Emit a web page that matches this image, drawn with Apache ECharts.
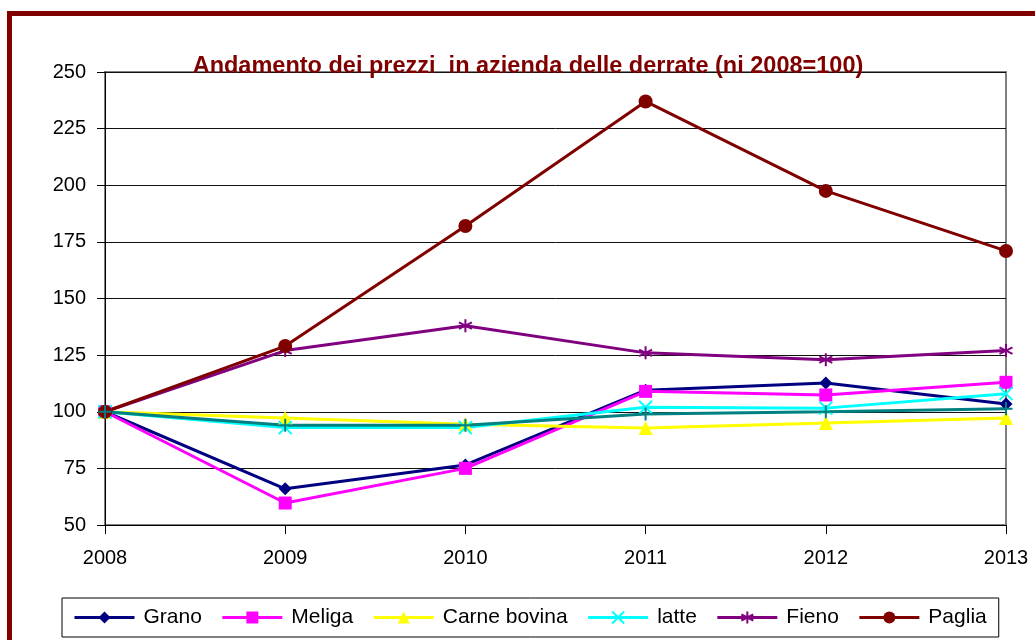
<!DOCTYPE html>
<html><head><meta charset="utf-8">
<script src="https://cdn.jsdelivr.net/npm/echarts@6/dist/echarts.min.js"></script>
<style>html,body{margin:0;padding:0;background:#fff}#c{width:1035px;height:640px}</style>
</head><body><div id="c"></div>
<script>
const years = ['2008','2009','2010','2011','2012','2013'];
const grano = [100, 66, 76.5, 109.5, 112.7, 103.4];
const meliga = [100, 59.7, 75, 109, 107.4, 113];
const carne = [100, 97.2, 94.5, 92.8, 95, 97.2];
const latte = [100, 93, 93, 102, 101.6, 108];
const fieno = [100, 127, 138, 126, 123, 127];
const paglia = [100, 129, 182, 237, 197.5, 171];
const altro = [100, 94, 94, 99, 100, 101.3];
const yTicks = {min: 50, max: 250, step: 25};

const FONT = 'Liberation Sans, Arial, sans-serif';
const X_PATH = 'path://M0,0 L10,10 M10,0 L0,10';
const STAR_PATH = 'path://M5,0 L5,10 M0,2.5 L10,7.5 M0,7.5 L10,2.5';
const PLUS_PATH = 'path://M5,0 L5,10 M0,5 L10,5';

function mk(name, data, color, symbol, size, stroke) {
  return {
    name, type: 'line', data, symbol, symbolSize: size, showSymbol: true,
    lineStyle: {color, width: 3},
    itemStyle: stroke ? {color, borderColor: color, borderWidth: 2} : {color},
    emphasis: {disabled: true}, animation: false
  };
}

const chart = echarts.init(document.getElementById('c'));
chart.setOption({
  animation: false,
  title: {
    text: 'Andamento dei prezzi  in azienda delle derrate (ni 2008=100)',
    left: 523, textAlign: 'center', top: 50,
    textStyle: {fontFamily: FONT, fontSize: 23.5, fontWeight: 'bold', color: '#800000'}
  },
  grid: {left: 105, right: 29, top: 72, bottom: 115, show: true, borderColor: '#808080', borderWidth: 2, backgroundColor: 'transparent'},
  xAxis: {
    type: 'category', data: years, boundaryGap: false,
    axisLine: {lineStyle: {color: '#000', width: 1}},
    axisTick: {show: true, alignWithLabel: true, length: 9, lineStyle: {color: '#000'}},
    axisLabel: {fontFamily: FONT, fontSize: 20, color: '#000', margin: 23},
    splitLine: {show: false}
  },
  yAxis: {
    type: 'value', min: yTicks.min, max: yTicks.max, interval: yTicks.step,
    axisLine: {show: true, lineStyle: {color: '#000', width: 1}},
    axisTick: {show: true, length: 8, lineStyle: {color: '#000'}},
    axisLabel: {fontFamily: FONT, fontSize: 20, color: '#000', margin: 19},
    splitLine: {show: true, lineStyle: {color: '#111', width: 1}}
  },
  legend: {
    data: ['Grano','Meliga','Carne bovina','latte','Fieno','Paglia'],
    left: 62, bottom: 3, itemWidth: 60, itemHeight: 15, itemGap: 19,
    padding: [9, 12, 9, 11], borderColor: '#000', borderWidth: 1,
    lineStyle: {width: 3},
    textStyle: {fontFamily: FONT, fontSize: 21, color: '#000', padding: [0, 0, 0, 4]}
  },
  graphic: [{
    type: 'rect', silent: true, z: 100,
    shape: {x: 9.5, y: 13.5, width: 1200, height: 800},
    style: {fill: 'none', stroke: '#800000', lineWidth: 5}
  }],
  series: [
    mk('Grano', grano, '#000080', 'diamond', 13),
    mk('Meliga', meliga, '#FF00FF', 'rect', 13),
    mk('Carne bovina', carne, '#FFFF00', 'triangle', 14),
    mk('latte', latte, '#00FFFF', X_PATH, 13, true),
    mk('Fieno', fieno, '#800080', STAR_PATH, 13, true),
    mk('Paglia', paglia, '#800000', 'circle', 14),
    mk('altro', altro, '#008080', PLUS_PATH, 13, true)
  ]
});
</script></body></html>
